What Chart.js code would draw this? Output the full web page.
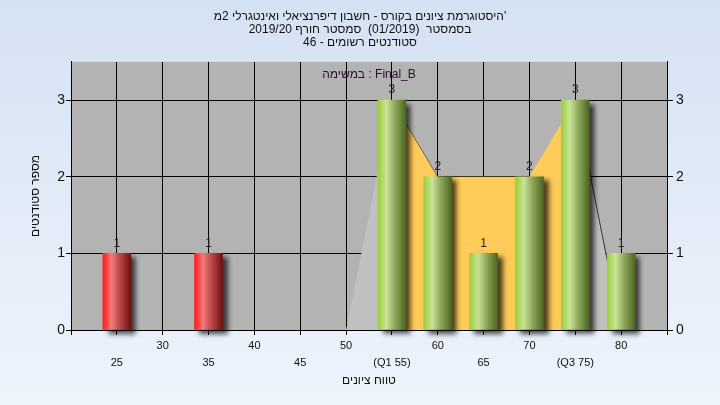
<!DOCTYPE html>
<html>
<head>
<meta charset="utf-8">
<script src="https://cdn.jsdelivr.net/npm/chart.js@4.4.1/dist/chart.umd.min.js"></script>
<style>
  html, body { margin: 0; padding: 0; }
  body { width: 720px; height: 405px; overflow: hidden; background: linear-gradient(#d5e2f3, #eef4fc); }
  canvas { display: block; }
</style>
</head>
<body>
<canvas id="histChart" width="720" height="405"></canvas>
<script>
// histogram bins (grade) and number of students in each
const scoreBins = [25, 35, 55, 60, 65, 70, 75, 80];
const studentCounts = [1, 1, 3, 2, 1, 2, 3, 1];
const failBelow = 55;

// shaded envelope behind the bars
const leftTailX = [50, 55];
const leftTailY = [0, 3];
const rightTailX = [75, 80];
const rightTailY = [3, 0];
const quartileX = [55, 60, 70, 75];
const quartileY = [3, 2, 2, 3];

// x tick labels, two rows
const upperTicks = [30, 40, 50, 60, 70, 80];
const lowerTicks = [25, 35, 45, 55, 65, 75];
const lowerTickLabels = ['25', '35', '45', '(Q1 55)', '65', '(Q3 75)'];

const titleLines = [
    "היסטוגרמת ציונים בקורס - חשבון דיפרנציאלי ואינטגרלי 2מ'",
    'בסמסטר  (01/2019)  סמסטר חורף 2019/20',
    'סטודנטים רשומים - 46'
];
const taskLabel = 'במשימה : Final_B';
const xTitle = 'טווח ציונים';
const yTitle = 'מספר סטודנטים';

const FONT = "'Liberation Sans', 'DejaVu Sans', sans-serif";

const redStops = [[0, '#ff1c1c'], [0.12, '#ff3a3a'], [0.3, '#f27d7d'], [0.55, '#c65050'], [1, '#6e1010']];
const greenStops = [[0, '#9ccd3a'], [0.3, '#c9e398'], [0.6, '#8fa85c'], [1, '#4b6620']];

const toPoints = (xs, ys) => xs.map((x, i) => ({x: x, y: ys[i]}));

const plotBg = {
    id: 'plotBg',
    beforeDraw(chart) {
        const {ctx, chartArea: a} = chart;
        ctx.save();
        ctx.fillStyle = '#b3b3b3';
        ctx.fillRect(a.left, a.top, a.right - a.left, a.bottom - a.top);
        ctx.restore();
    }
};

// cylinder look: horizontal gradient per bar plus a soft drop shadow
const barShadow = {
    id: 'barShadow',
    beforeDatasetDraw(chart, args) {
        if (args.meta.type !== 'bar') return;
        const ctx = chart.ctx;
        args.meta.data.forEach((el, i) => {
            const half = el.width / 2;
            const g = ctx.createLinearGradient(el.x - half, 0, el.x + half, 0);
            const stops = scoreBins[i] < failBelow ? redStops : greenStops;
            stops.forEach(s => g.addColorStop(s[0], s[1]));
            el.options = Object.assign({}, el.options, { backgroundColor: g });
        });
        ctx.save();
        ctx.shadowColor = 'rgba(0,0,0,0.7)';
        ctx.shadowBlur = 5;
        ctx.shadowOffsetX = 5;
        ctx.shadowOffsetY = 4;
    },
    afterDatasetDraw(chart, args) {
        if (args.meta.type !== 'bar') return;
        chart.ctx.restore();
    }
};

const barLabels = {
    id: 'barLabels',
    afterDatasetsDraw(chart) {
        const ctx = chart.ctx;
        ctx.save();
        ctx.font = '12px ' + FONT;
        ctx.fillStyle = '#222';
        ctx.textAlign = 'center';
        ctx.textBaseline = 'bottom';
        chart.getDatasetMeta(0).data.forEach((el, i) => {
            ctx.fillText(String(studentCounts[i]), el.x, el.y - 4);
        });
        // task name at top of plot
        const a = chart.chartArea;
        ctx.fillStyle = '#2a1030';
        ctx.textBaseline = 'middle';
        ctx.fillText(taskLabel, (a.left + a.right) / 2, a.top + 13);
        ctx.restore();
    }
};

new Chart(document.getElementById('histChart'), {
    type: 'bar',
    data: {
        datasets: [{
            type: 'bar',
            data: toPoints(scoreBins, studentCounts),
            backgroundColor: c => '#9ccd3a',
            borderWidth: 0,
            barThickness: 28,
            clip: false,
            order: 0
        }, {
            type: 'line',
            data: toPoints(quartileX, quartileY),
            fill: 'origin',
            backgroundColor: '#ffcc5a',
            borderWidth: 1,
            borderColor: 'rgba(0,0,0,0)',
            segment: { borderColor: s => s.p0DataIndex === 0 ? '#666' : 'rgba(0,0,0,0)' },
            pointRadius: 0,
            tension: 0,
            order: 1
        }, {
            type: 'line',
            data: toPoints(leftTailX, leftTailY),
            fill: 'origin',
            backgroundColor: '#c0c0c0',
            borderWidth: 0,
            pointRadius: 0,
            tension: 0,
            order: 2
        }, {
            type: 'line',
            data: toPoints(rightTailX, rightTailY),
            fill: 'origin',
            backgroundColor: '#c0c0c0',
            borderColor: '#333',
            borderWidth: 1,
            pointRadius: 0,
            tension: 0,
            order: 2
        }]
    },
    options: {
        responsive: false,
        animation: false,
        layout: { padding: 0 },
        plugins: {
            legend: { display: false },
            tooltip: { enabled: false },
            title: {
                display: true,
                text: titleLines,
                color: '#111',
                font: { family: FONT, size: 12, weight: 'normal', lineHeight: 1.08 },
                padding: { top: 10, bottom: 13 }
            }
        },
        scales: {
            x: {
                type: 'linear',
                min: 20,
                max: 85,
                offset: false,
                border: { color: '#000', width: 1 },
                grid: { color: '#000', lineWidth: 1, tickLength: 5, tickColor: '#000', offset: false },
                ticks: {
                    stepSize: 5,
                    autoSkip: false,
                    maxRotation: 0,
                    color: '#111',
                    padding: 2,
                    font: { family: FONT, size: 11, lineHeight: 1.55 },
                    callback: v => {
                        if (upperTicks.includes(v)) return String(v);
                        const k = lowerTicks.indexOf(v);
                        return k >= 0 ? ['', lowerTickLabels[k]] : '';
                    }
                },
                title: {
                    display: true,
                    text: xTitle,
                    color: '#111',
                    font: { family: FONT, size: 12 },
                    padding: { top: 2, bottom: 17 }
                },
                afterFit: s => { s.height = 75; }
            },
            y: {
                position: 'left',
                min: 0,
                max: 3.5,
                border: { color: '#000', width: 1 },
                grid: { color: '#000', lineWidth: 1, tickLength: 5, tickColor: '#000' },
                ticks: { stepSize: 1, color: '#111', padding: 1, font: { family: FONT, size: 14 } },
                title: {
                    display: true,
                    text: yTitle,
                    color: '#111',
                    font: { family: FONT, size: 12 },
                    padding: { top: 28, bottom: 0 }
                },
                afterBuildTicks: s => { s.ticks = s.ticks.filter(t => Number.isInteger(t.value)); },
                afterFit: s => { s.width = 71; }
            },
            y2: {
                position: 'right',
                min: 0,
                max: 3.5,
                border: { color: '#000', width: 1 },
                grid: { drawOnChartArea: false, tickLength: 6, tickColor: '#000' },
                ticks: { stepSize: 1, color: '#111', padding: 3, font: { family: FONT, size: 14 } },
                afterBuildTicks: s => { s.ticks = s.ticks.filter(t => Number.isInteger(t.value)); },
                afterFit: s => { s.width = 53; }
            }
        }
    },
    plugins: [plotBg, barShadow, barLabels]
});
</script>
</body>
</html>
